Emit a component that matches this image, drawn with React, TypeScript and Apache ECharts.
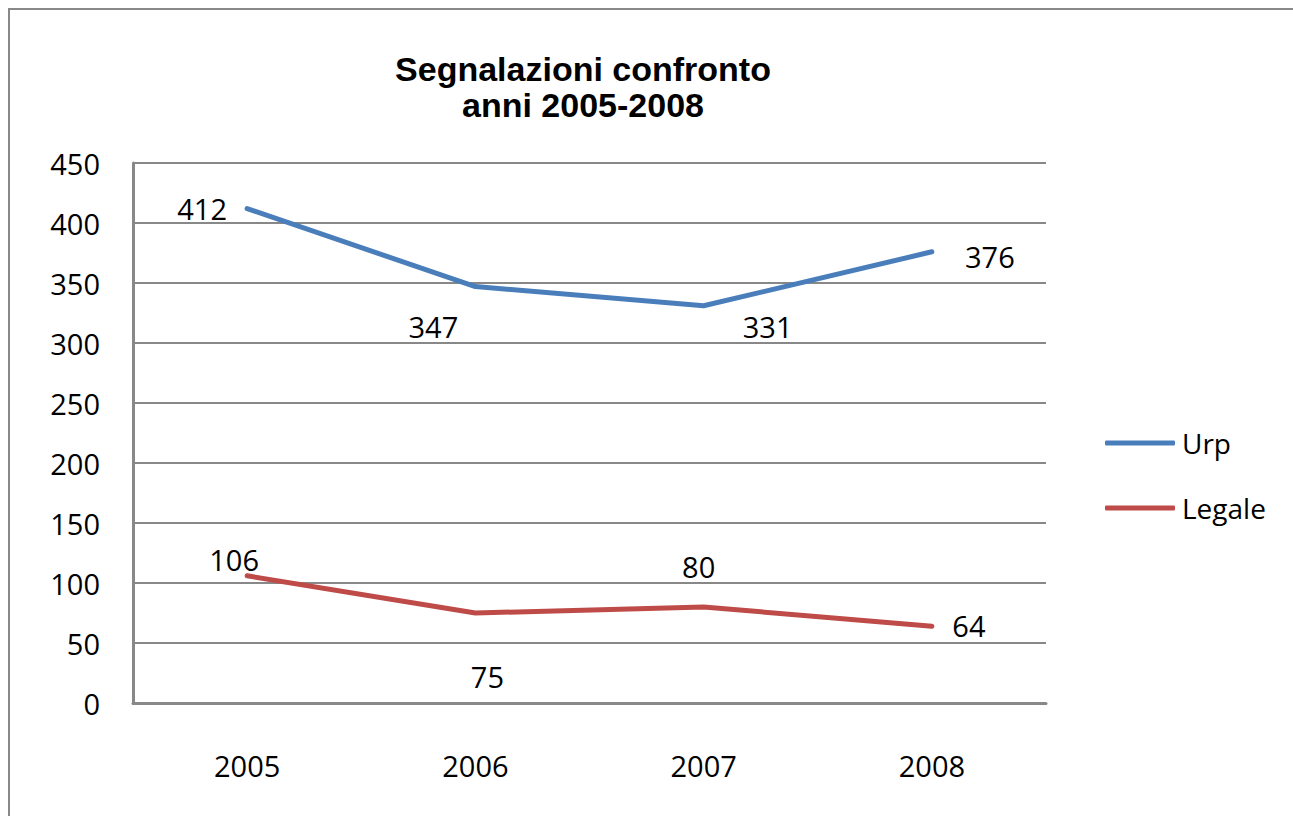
import React, { useEffect, useRef } from "react";
import * as echarts from "echarts";

const years = ["2005", "2006", "2007", "2008"];
const urp = [412, 347, 331, 376];
const legale = [106, 75, 80, 64];
// label offsets (px) from each point, as placed in the original chart
const urpLabelOffset = [[-45, 0], [-42, 40], [64, 21], [58, 5]];
const legaleLabelOffset = [[-13, -16], [12, 63], [-5, -41], [37, -1]];

const FONT = "'Open Sans', 'Noto Sans', sans-serif";

export default function App() {
  const ref = useRef<HTMLDivElement>(null);
  useEffect(() => {
    if (!ref.current) return;
    const chart = echarts.init(ref.current, null, { renderer: "svg" });
    const mk = (vals: number[], offs: number[][]) =>
      vals.map((v, i) => ({
        value: v,
        label: { position: "inside", offset: offs[i] },
      }));
    chart.setOption({
      animation: false,
      backgroundColor: "#ffffff",
      title: {
        text: "Segnalazioni confronto\nanni 2005-2008",
        left: 578,
        top: 46,
        textAlign: "center",
        textStyle: {
          fontFamily: "'Liberation Sans', Arial, sans-serif",
          fontWeight: "bold",
          fontSize: 34,
          lineHeight: 36,
          color: "#000",
        },
      },
      graphic: [
        {
          type: "rect",
          shape: { x: 9, y: 9, width: 1400, height: 900 },
          style: { fill: "none", stroke: "#888888", lineWidth: 2 },
          silent: true,
        },
      ],
      legend: {
        orient: "vertical",
        left: 1100,
        top: 424,
        itemWidth: 70,
        itemHeight: 5,
        itemGap: 37,
        textStyle: { fontFamily: FONT, fontSize: 28, color: "#000", padding: [0, 0, 0, 2] },
        data: [
          { name: "Urp", icon: "roundRect" },
          { name: "Legale", icon: "roundRect" },
        ],
      },
      grid: { left: 133, right: 247, top: 163, bottom: 113, containLabel: false },
      xAxis: {
        type: "category",
        data: years,
        boundaryGap: true,
        axisLine: { show: true, lineStyle: { color: "#888888", width: 3 } },
        axisTick: { show: false },
        axisLabel: { margin: 48, fontFamily: FONT, fontSize: 29, color: "#000" },
      },
      yAxis: {
        type: "value",
        min: 0,
        max: 450,
        interval: 50,
        axisLine: { show: true, lineStyle: { color: "#888888", width: 3 } },
        axisTick: { show: false },
        splitLine: { show: true, lineStyle: { color: "#888888", width: 2 } },
        axisLabel: { margin: 33, fontFamily: FONT, fontSize: 29, color: "#000" },
      },
      series: [
        {
          name: "Urp",
          type: "line",
          data: mk(urp, urpLabelOffset),
          symbol: "circle",
          symbolSize: 0,
          showSymbol: true,
          lineStyle: { color: "#4a7ebb", width: 5, cap: "round", join: "round" },
          itemStyle: { color: "#4a7ebb" },
          label: { show: true, fontFamily: FONT, fontSize: 29, color: "#000" },
        },
        {
          name: "Legale",
          type: "line",
          data: mk(legale, legaleLabelOffset),
          symbol: "circle",
          symbolSize: 0,
          showSymbol: true,
          lineStyle: { color: "#be4b48", width: 5, cap: "round", join: "round" },
          itemStyle: { color: "#be4b48" },
          label: { show: true, fontFamily: FONT, fontSize: 29, color: "#000" },
        },
      ],
    });
    return () => chart.dispose();
  }, []);
  return (
    <div
      ref={ref}
      style={{ position: "absolute", left: 0, top: 0, width: 1293, height: 816 }}
    />
  );
}
